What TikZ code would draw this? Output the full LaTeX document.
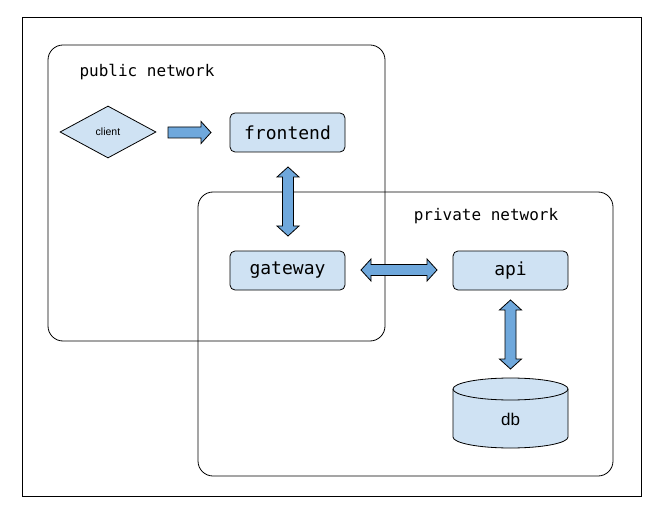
\documentclass[tikz,border=0pt]{standalone}
\usepackage{fontspec}
\setmonofont{DejaVu Sans Mono}
\setsansfont{Liberation Sans}
\usetikzlibrary{calc,shapes.geometric}
\definecolor{boxfill}{HTML}{CFE2F3}
\definecolor{arrowfill}{HTML}{6FA8DC}
\tikzset{
  region/.style={draw=black, line width=0.8pt, rounded corners=15pt},
  svc/.style={draw=black, line width=0.8pt, fill=boxfill, rounded corners=5pt,
    minimum width=115pt, minimum height=39pt, inner sep=0pt, font=\ttfamily\fontsize{18}{21}\selectfont},
  lbl/.style={font=\ttfamily\fontsize{16}{19}\selectfont, inner sep=0pt},
  arrowstyle/.style={draw=black, line width=0.8pt, fill=arrowfill, line join=miter},
}
\newcommand\ah{10pt}
\newcommand\aw{5.5pt}
\newcommand\aW{11pt}
\newcommand\dblarrow[2]{%
 \filldraw[arrowstyle] (#1)
 -- ($(#1)!\ah!(#2)!\aW!90:(#2)$)
 -- ($(#1)!\ah!(#2)!\aw!90:(#2)$)
 -- ($(#2)!\ah!(#1)!\aw!-90:(#1)$)
 -- ($(#2)!\ah!(#1)!\aW!-90:(#1)$)
 -- (#2)
 -- ($(#2)!\ah!(#1)!\aW!90:(#1)$)
 -- ($(#2)!\ah!(#1)!\aw!90:(#1)$)
 -- ($(#1)!\ah!(#2)!\aw!-90:(#2)$)
 -- ($(#1)!\ah!(#2)!\aW!-90:(#2)$)
 -- cycle;}
\newcommand\sglarrow[2]{%
 \filldraw[arrowstyle] ($(#1)!\aw!90:(#2)$)
 -- ($(#2)!\ah!(#1)!\aw!-90:(#1)$)
 -- ($(#2)!\ah!(#1)!\aW!-90:(#1)$)
 -- (#2)
 -- ($(#2)!\ah!(#1)!\aW!90:(#1)$)
 -- ($(#2)!\ah!(#1)!\aw!90:(#1)$)
 -- ($(#1)!\aw!-90:(#2)$)
 -- cycle;}
\begin{document}
\begin{tikzpicture}[x=1pt,y=-1pt]
\useasboundingbox (0,0) rectangle (663,521);
\fill[white] (0,0) rectangle (663,521);
\draw[line width=0.8pt] (22,17) rectangle (641,496);
% regions
\draw[region] (48,45) rectangle (385,341);
\draw[region] (198,192) rectangle (613,476);
\node[lbl] (publbl) at (147,72) {public network};
\node[lbl] (privlbl) at (486,216) {private network};
% nodes
\node[diamond, draw=black, line width=0.8pt, fill=boxfill, aspect=1.85,
  minimum width=96pt, minimum height=52pt, inner sep=0pt,
  font=\sffamily\fontsize{10.5}{12}\selectfont] (client) at (108,132) {client};
\node[svc] (frontend) at (287.5,132.5) {frontend};
\node[svc] (gateway) at (287.5,270.5) {gateway};
\node[svc] (api) at (510.5,270.5) {api};
% db cylinder
\filldraw[draw=black, line width=0.8pt, fill=boxfill]
  (453,389) -- (453,437) arc[start angle=180, end angle=0, x radius=57.5, y radius=11]
  -- (568,389) arc[start angle=0, end angle=-180, x radius=57.5, y radius=11] -- cycle;
\draw[line width=0.8pt] (453,389) arc[start angle=180, end angle=0, x radius=57.5, y radius=11];
\node[font=\sffamily\fontsize{17}{20}\selectfont, inner sep=0pt] (db) at (510.5,419) {db};
% arrows
\coordinate (c1) at (168,132.5);
\coordinate (c2) at (211,132.5);
\sglarrow{c1}{c2}
\coordinate (f1) at (288,167);
\coordinate (f2) at (288,236);
\dblarrow{f1}{f2}
\coordinate (g1) at (361,270);
\coordinate (g2) at (437,270);
\dblarrow{g1}{g2}
\coordinate (a1) at (510.5,300);
\coordinate (a2) at (510.5,369);
\dblarrow{a1}{a2}
\end{tikzpicture}
\end{document}
